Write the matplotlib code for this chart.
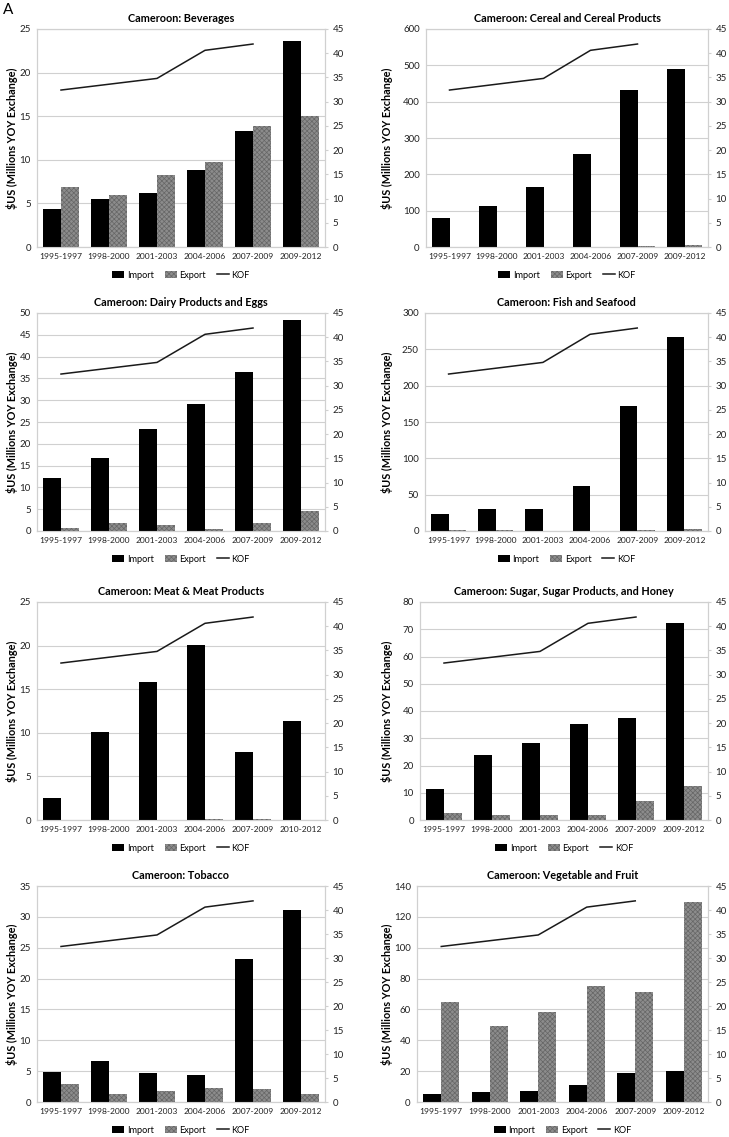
import numpy as np
import matplotlib
matplotlib.use('Agg')
import matplotlib.pyplot as plt
from matplotlib.patches import Patch
from matplotlib.lines import Line2D

plt.rcParams['font.family'] = ['Lato', 'DejaVu Sans']
plt.rcParams['hatch.linewidth'] = 0.5

# data
periods = ['1995-1997', '1998-2000', '2001-2003', '2004-2006', '2007-2009', '2009-2012']
periods_meat = ['1995-1997', '1998-2000', '2001-2003', '2004-2006', '2007-2009', '2010-2012']
kof = [32.4, 33.6, 34.8, 40.6, 41.9]

titles = ['Cameroon: Beverages', 'Cameroon: Cereal and Cereal Products',
          'Cameroon: Dairy Products and Eggs', 'Cameroon: Fish and Seafood',
          'Cameroon: Meat & Meat Products', 'Cameroon: Sugar, Sugar Products, and Honey',
          'Cameroon: Tobacco', 'Cameroon: Vegetable and Fruit']

bev_imp = [4.35, 5.5, 6.25, 8.8, 13.3, 23.65]
bev_exp = [6.9, 5.95, 8.3, 9.8, 13.85, 15.0]
cer_imp = [80, 114, 164, 255, 432, 490]
cer_exp = [1.2, 0, 1.2, 1.2, 4, 6]
dai_imp = [12.1, 16.8, 23.5, 29.1, 36.4, 48.5]
dai_exp = [0.6, 1.9, 1.3, 0.5, 1.9, 4.7]
fis_imp = [23, 30.5, 30, 61.5, 172, 267]
fis_exp = [1.5, 0.8, 0, 0, 1.2, 2.5]
mea_imp = [2.5, 10.1, 15.8, 20.1, 7.85, 11.3]
mea_exp = [0, 0, 0, 0.08, 0.08, 0]
sug_imp = [11.5, 23.7, 28.2, 35.2, 37.5, 72.4]
sug_exp = [2.6, 1.7, 2.0, 1.7, 6.9, 12.5]
tob_imp = [4.85, 6.6, 4.7, 4.45, 23.1, 31.05]
tob_exp = [2.95, 1.3, 1.8, 2.3, 2.15, 1.35]
veg_imp = [5.0, 6.5, 7.4, 11.0, 18.5, 19.8]
veg_exp = [64.8, 49.2, 58.3, 75.0, 71.6, 129.4]

imports = [bev_imp, cer_imp, dai_imp, fis_imp, mea_imp, sug_imp, tob_imp, veg_imp]
exports = [bev_exp, cer_exp, dai_exp, fis_exp, mea_exp, sug_exp, tob_exp, veg_exp]
ymax = [25, 600, 50, 300, 25, 80, 35, 140]
ystep = [5, 100, 5, 50, 5, 10, 5, 20]

# layout in pixels
W, H = 729, 1137
tops = [29, 313, 602, 886]
bots = [247, 531, 820, 1102]
lefts = [37, 426, 37, 425, 37, 420, 37, 417]
rights = [325, 708] * 4
ylab_x = [18, 393] * 4

fig = plt.figure(figsize=(W / 100, H / 100), dpi=100)
grid_c = '#d0d0d0'
exp_face = '#8c8c8c'
exp_hatch = '#666666'
bw = 0.37
fs = 7.0

for i in range(8):
    r = i // 2
    x0, x1 = lefts[i], rights[i]
    y0, y1 = tops[r], bots[r]
    ax = fig.add_axes([x0 / W, 1 - y1 / H, (x1 - x0) / W, (y1 - y0) / H])
    cats = periods_meat if i == 4 else periods
    x = np.arange(len(cats))
    ax.bar(x - bw / 2, imports[i], bw, color='black', zorder=3)
    ax.bar(x + bw / 2, exports[i], bw, facecolor=exp_face, edgecolor=exp_hatch,
           hatch='xxxxxxx', linewidth=0, zorder=3)
    ax.set_xlim(-0.5, len(cats) - 0.5)
    ax.set_ylim(0, ymax[i])
    ax.set_yticks(np.arange(0, ymax[i] + 0.1, ystep[i]))
    ax.yaxis.grid(True, color=grid_c, linewidth=0.8, zorder=0)
    ax.set_axisbelow(True)
    ax.set_xticks(x)
    ax.set_xticklabels(cats)
    ax.tick_params(axis='both', length=0, labelsize=fs, colors='#222222')
    ax.tick_params(axis='x', pad=4, labelsize=6.1)
    ax.tick_params(axis='y', pad=4.5)
    for s in ax.spines.values():
        s.set_color(grid_c)
        s.set_linewidth(0.8)
    ax.set_title(titles[i], fontsize=7.8, fontweight='bold', pad=5)
    ax.set_ylabel(r'\$US (Millions YOY Exchange)', fontsize=7.8, fontweight='bold')
    ax.yaxis.set_label_coords((ylab_x[i] - x0) / (x1 - x0), 0.5)

    ax2 = ax.twinx()
    ax2.plot(np.arange(len(kof)), kof, color='#1a1a1a', linewidth=1.1, zorder=4)
    ax2.set_ylim(0, 45)
    ax2.set_yticks(np.arange(0, 46, 5))
    ax2.tick_params(axis='y', length=2.5, labelsize=fs, colors='#222222', pad=3)
    ax2.tick_params(axis='y', color=grid_c)
    for s in ax2.spines.values():
        s.set_color(grid_c)
        s.set_linewidth(0.8)

    handles = [Patch(facecolor='black'),
               Patch(facecolor=exp_face, edgecolor=exp_hatch, hatch='xxxxxxx', linewidth=0),
               Line2D([0], [0], color='#1a1a1a', linewidth=1.1)]
    ax.legend(handles, ['Import', 'Export', 'KOF'], loc='center', bbox_to_anchor=(0.5, -0.13),
              ncol=3, frameon=False, fontsize=6.6, handlelength=1.3, handleheight=0.8,
              handletextpad=0.3, columnspacing=1.2)

fig.text(3 / W, 1 - 10 / H, 'A', fontsize=11, va='center', ha='left')

fig.savefig('out.png', dpi=100, facecolor='white')
